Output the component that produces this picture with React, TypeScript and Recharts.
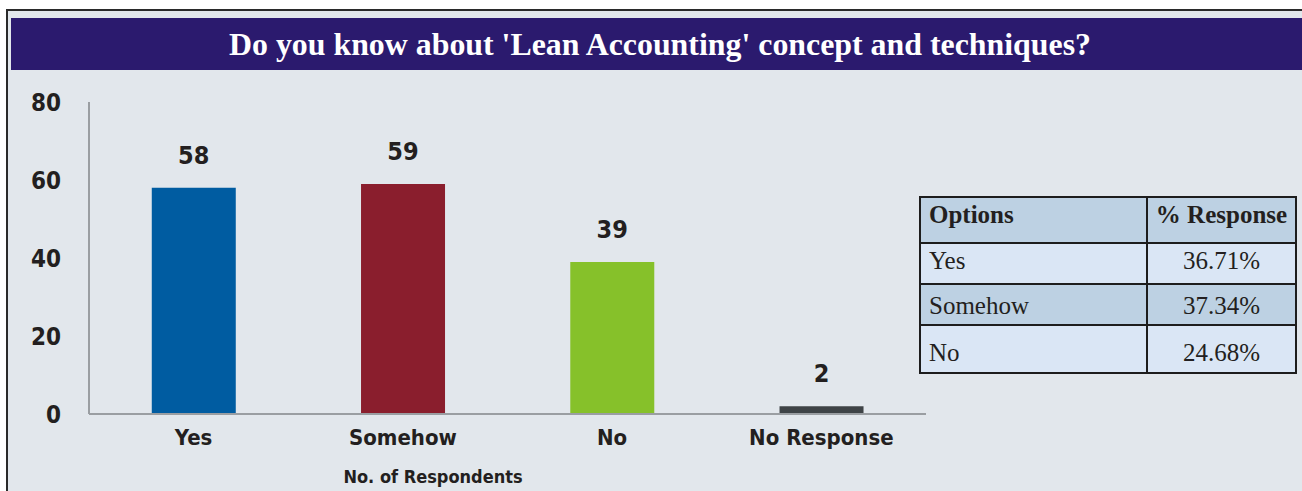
import { Bar, BarChart, Cell, LabelList, XAxis, YAxis } from 'recharts';

const categories = ['Yes', 'Somehow', 'No', 'No Response'];
const respondents = [58, 59, 39, 2];
const barColors = ['#005ca1', '#8a1e2d', '#86c12a', '#3e4346'];
const yTicks = [0, 20, 40, 60, 80];

const tableOptions = ['Yes', 'Somehow', 'No'];
const tableShares = ['36.71%', '37.34%', '24.68%'];

const chartData = categories.map((name, i) => ({ name, value: respondents[i] }));

const sansFont = '"DejaVu Sans Condensed", "DejaVu Sans", sans-serif';
const serifFont = '"Liberation Serif", "Times New Roman", serif';

const cellBorder = '2px solid #1d1d1d';

export default function App() {
    return (
        <div style={{ position: 'absolute', left: 0, top: 0, width: 1302, height: 491, background: '#ffffff', overflow: 'hidden' }}>
            <div style={{ position: 'absolute', left: 6, top: 9, width: 1310, height: 500, border: '2px solid #2a2a2a', background: '#e2e7ec' }} />
            <svg style={{ position: 'absolute', left: 11, top: 18 }} width={1291} height={52}>
                <rect x={0} y={0} width={1291} height={52} fill="#2b1a6e" />
                <text x={649} y={37} textAnchor="middle" fill="#ffffff" fontFamily={serifFont} fontWeight="bold" fontSize={31} textLength={862} lengthAdjust="spacingAndGlyphs">
                    Do you know about 'Lean Accounting' concept and techniques?
                </text>
            </svg>

            <div style={{ position: 'absolute', left: 0, top: 0 }}>
                <BarChart width={940} height={491} data={chartData} margin={{ top: 102, right: 14, bottom: 45, left: 10 }} barCategoryGap="30%">
                    <XAxis
                        dataKey="name"
                        axisLine={{ stroke: '#9a9ea2', strokeWidth: 2 }}
                        tickLine={false}
                        tickMargin={9}
                        height={32}
                        tick={{ fill: '#231f20', fontFamily: sansFont, fontWeight: 'bold', fontSize: 22 }}
                        interval={0}
                    />
                    <YAxis
                        domain={[0, 80]}
                        ticks={yTicks}
                        width={79}
                        axisLine={{ stroke: '#9a9ea2', strokeWidth: 2 }}
                        tickLine={false}
                        tickMargin={22}
                        tick={{ fill: '#231f20', fontFamily: sansFont, fontWeight: 'bold', fontSize: 24 }}
                    />
                    <Bar dataKey="value" isAnimationActive={false}>
                        {chartData.map((d, i) => (
                            <Cell key={d.name} fill={barColors[i]} />
                        ))}
                        <LabelList dataKey="value" position="top" offset={24} fill="#231f20" fontFamily={sansFont} fontWeight="bold" fontSize={25} />
                    </Bar>
                </BarChart>
            </div>

            <div style={{ position: 'absolute', left: 332, top: 466, width: 202, textAlign: 'center', fontFamily: sansFont, fontWeight: 'bold', fontSize: 18, color: '#231f20' }}>
                No. of Respondents
            </div>

            <table style={{ position: 'absolute', left: 919, top: 196, width: 376, tableLayout: 'fixed', borderCollapse: 'collapse', fontFamily: serifFont, fontSize: 25, color: '#231f20' }}>
                <colgroup>
                    <col style={{ width: 227 }} />
                    <col style={{ width: 149 }} />
                </colgroup>
                <tbody>
                    <tr style={{ height: 46, background: '#bdd1e3', fontWeight: 'bold' }}>
                        <td style={{ border: cellBorder, padding: '0 8px 10px' }}>Options</td>
                        <td style={{ border: cellBorder, textAlign: 'center', padding: '0 0 10px', whiteSpace: 'nowrap' }}>% Response</td>
                    </tr>
                    {tableOptions.map((opt, i) => {
                        const pad = i === 0 ? '0 0 5px' : i === 2 ? '8px 0 0' : '2px 0 0';
                        return (
                            <tr key={opt} style={{ height: i === 2 ? 48 : 41, background: i === 1 ? '#bdd1e3' : '#dae6f5' }}>
                                <td style={{ border: cellBorder, padding: pad, paddingLeft: 8 }}>{opt}</td>
                                <td style={{ border: cellBorder, textAlign: 'center', padding: pad }}>{tableShares[i]}</td>
                            </tr>
                        );
                    })}
                </tbody>
            </table>
        </div>
    );
}
